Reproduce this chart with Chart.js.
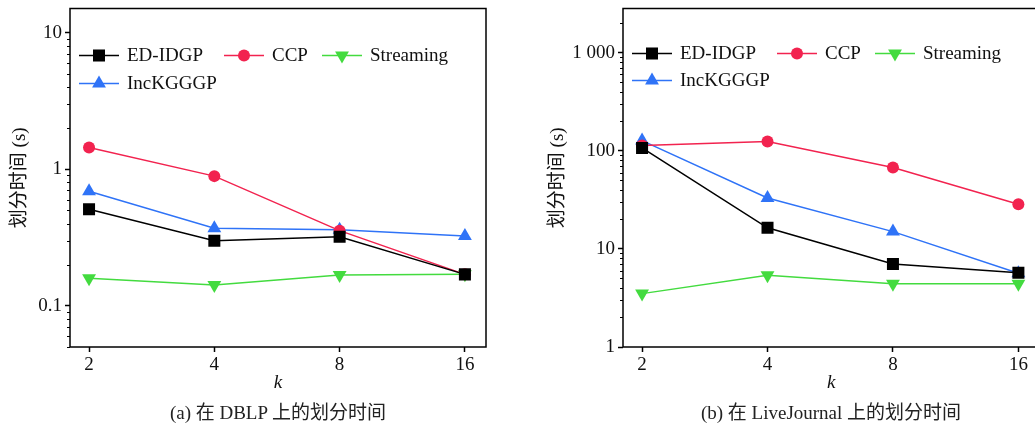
<!DOCTYPE html>
<html>
<head>
<meta charset="utf-8">
<script src="https://cdn.jsdelivr.net/npm/chart.js@4.4.1/dist/chart.umd.min.js"></script>
<style>
  html, body { margin: 0; padding: 0; background: #fff; width: 1035px; height: 425px; overflow: hidden; }
  .wrap { position: absolute; top: 0; height: 425px; }
  .caption {
    position: absolute; top: 397px; width: 416px; text-align: center;
    font: 19px "Liberation Serif", "Noto Sans CJK SC", serif; color: #222;
  }
</style>
</head>
<body>
<div class="wrap" style="left:0;width:520px"><canvas id="dblpChart"></canvas></div>
<div class="wrap" style="left:520px;width:528px"><canvas id="ljChart"></canvas></div>
<div class="caption" style="left:70px">(a) 在 DBLP 上的划分时间</div>
<div class="caption" style="left:623px">(b) 在 LiveJournal 上的划分时间</div>
<script>
// ─── Data ─────────────────────────────────────────────
const kValues = [2, 4, 8, 16];
const seriesNames = ['ED-IDGP', 'CCP', 'Streaming', 'IncKGGGP'];

const dblpEdIdgp    = [0.51, 0.30, 0.32, 0.17];
const dblpCcp       = [1.44, 0.89, 0.355, 0.17];
const dblpStreaming = [0.159, 0.142, 0.168, 0.17];
const dblpIncKgggp  = [0.69, 0.37, 0.36, 0.325];

const ljEdIdgp    = [107, 16.4, 7.0, 5.7];
const ljCcp       = [113, 124, 67.5, 28.5];
const ljStreaming = [3.5, 5.4, 4.4, 4.4];
const ljIncKgggp  = [127, 33, 15, 5.65];

const dblpTicks = [0.1, 1, 10];
const dblpTickLabels = ['0.1', '1', '10'];
const ljTicks = [1, 10, 100, 1000];
const ljTickLabels = ['1', '10', '100', '1 000'];

// ─── Styles ───────────────────────────────────────────
const FONT = '"Liberation Serif", "Noto Sans CJK SC", serif';
const styles = [
    { color: '#000000', pointStyle: 'rect', radius: 8.5, rotation: 0 },
    { color: '#f2234f', pointStyle: 'circle', radius: 6, rotation: 0 },
    { color: '#43db3f', pointStyle: 'triangle', radius: 8, rotation: 180 },
    { color: '#2f73f7', pointStyle: 'triangle', radius: 8, rotation: 0 },
];

function makeDatasets(seriesList) {
    return seriesList.map((vals, i) => ({
        label: seriesNames[i],
        data: vals.map((v, j) => ({ x: kValues[j], y: v })),
        borderColor: styles[i].color,
        backgroundColor: styles[i].color,
        borderWidth: 1.5,
        pointStyle: styles[i].pointStyle,
        pointRadius: styles[i].radius,
        pointRotation: styles[i].rotation,
        pointBorderWidth: 0,
        pointHoverRadius: styles[i].radius,
        tension: 0,
    }));
}

// frame, minor ticks and legend
const framePlugin = {
    id: 'frame',
    afterDraw(chart, args, opts) {
        const { ctx, chartArea: a } = chart;
        const y = chart.scales.y;
        ctx.save();
        ctx.strokeStyle = '#000';
        ctx.lineWidth = 1.5;
        ctx.strokeRect(a.left, a.top, a.right - a.left, a.bottom - a.top);

        // minor ticks on log axis
        ctx.lineWidth = 1;
        ctx.beginPath();
        for (let d = Math.floor(Math.log10(y.min)); d <= Math.ceil(Math.log10(y.max)); d++) {
            for (let m = 2; m <= 9; m++) {
                const v = m * Math.pow(10, d);
                if (v < y.min || v > y.max) continue;
                const py = Math.round(y.getPixelForValue(v)) + 0.5;
                ctx.moveTo(a.left, py);
                ctx.lineTo(a.left - 3, py);
            }
        }
        ctx.stroke();

        // legend inside the plot
        ctx.font = '19px ' + FONT;
        ctx.textBaseline = 'middle';
        chart.data.datasets.forEach((ds, i) => {
            const lx = a.left + opts.cols[i % 3];
            const ly = a.top + opts.rows[Math.floor(i / 3)];
            ctx.strokeStyle = ds.borderColor;
            ctx.lineWidth = 1.5;
            ctx.beginPath();
            ctx.moveTo(lx, ly);
            ctx.lineTo(lx + 40, ly);
            ctx.stroke();
            ctx.fillStyle = ds.backgroundColor;
            Chart.helpers.drawPoint(ctx, {
                pointStyle: ds.pointStyle, radius: ds.pointRadius,
                rotation: ds.pointRotation, borderWidth: 0
            }, lx + 20, ly);
            ctx.fillStyle = '#111';
            ctx.fillText(ds.label, lx + 48, ly + 1);
        });
        ctx.restore();
    }
};

function makeChart(id, seriesList, yMin, yMax, yTicks, yLabels, yWidth, padRight, titlePad, legendRows) {
    const el = document.getElementById(id);
    el.width = el.parentElement.offsetWidth;
    el.height = 425;
    return new Chart(el, {
        type: 'line',
        data: { datasets: makeDatasets(seriesList) },
        plugins: [framePlugin],
        options: {
            responsive: false,
            animation: false,
            events: [],
            layout: { padding: { top: 8, right: padRight, left: 0, bottom: 0 } },
            plugins: {
                legend: { display: false },
                tooltip: { enabled: false },
                frame: { cols: [9, 154, 252], rows: legendRows },
            },
            scales: {
                x: {
                    type: 'logarithmic',
                    min: 1.8, max: 17.98,
                    afterBuildTicks: s => { s.ticks = kValues.map(v => ({ value: v })); },
                    afterFit: s => { s.height = 425 - 347; s.paddingLeft = 0; s.paddingRight = 0; },
                    border: { display: false },
                    grid: { drawOnChartArea: false, tickLength: 5, color: '#000', tickWidth: 1.5 },
                    ticks: {
                        color: '#111', padding: 2, maxRotation: 0,
                        font: { family: FONT, size: 19 },
                        callback: v => String(v),
                    },
                    title: {
                        display: true, text: 'k', color: '#111',
                        font: { family: FONT, size: 19, style: 'italic' },
                        padding: { top: 0, bottom: 31 },
                    },
                },
                y: {
                    type: 'logarithmic',
                    min: yMin, max: yMax,
                    afterBuildTicks: s => { s.ticks = yTicks.map(v => ({ value: v })); },
                    afterFit: s => { s.width = yWidth; s.paddingTop = 0; s.paddingBottom = 0; },
                    border: { display: false },
                    grid: { drawOnChartArea: false, tickLength: 5, color: '#000', tickWidth: 1.5 },
                    ticks: {
                        color: '#111', padding: 3,
                        font: { family: FONT, size: 19 },
                        callback: v => yLabels[yTicks.indexOf(v)] ?? '',
                    },
                    title: {
                        display: true, text: '划分时间 (s)', color: '#111',
                        font: { family: FONT, size: 19 },
                        padding: { top: titlePad, bottom: 0 },
                    },
                },
            },
        },
    });
}

makeChart('dblpChart', [dblpEdIdgp, dblpCcp, dblpStreaming, dblpIncKgggp],
    0.05, 15, dblpTicks, dblpTickLabels, 70, 34, 9, [47, 75]);
makeChart('ljChart', [ljEdIdgp, ljCcp, ljStreaming, ljIncKgggp],
    1, 2820, ljTicks, ljTickLabels, 103, 6, 27, [45, 72]);
</script>
</body>
</html>
